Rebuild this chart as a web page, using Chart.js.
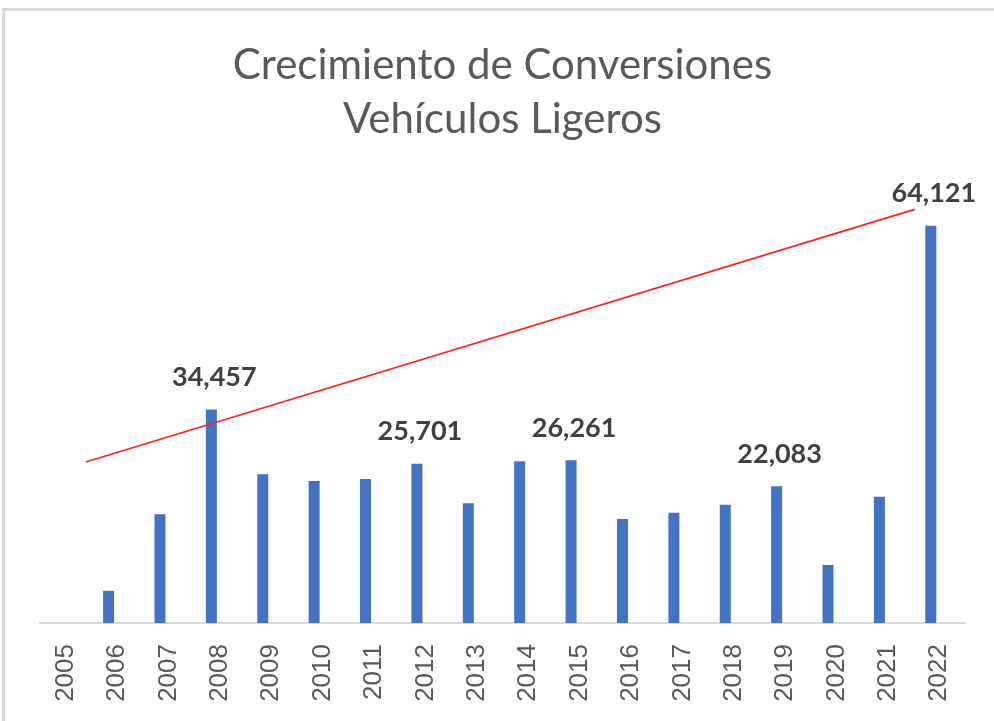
<!DOCTYPE html>
<html>
<head>
<meta charset="utf-8">
<script src="https://cdn.jsdelivr.net/npm/chart.js@4.4.0/dist/chart.umd.min.js"></script>
<style>
  body { margin: 0; background: #fff; }
  #marco { position: absolute; left: 2px; top: 8px; width: 1000px; height: 720px;
           border-top: 3px solid #d9d9d9; border-left: 3px solid #d9d9d9; }
  #myChart { position: absolute; left: 0; top: 0; }
</style>
</head>
<body>
<div id="marco"></div>
<canvas id="myChart" width="994" height="721"></canvas>
<script>
const anios = ['2005', '2006', '2007', '2008', '2009', '2010', '2011', '2012', '2013',
               '2014', '2015', '2016', '2017', '2018', '2019', '2020', '2021', '2022'];
const conversiones = [0, 5210, 17540, 34457, 24000, 22920, 23240, 25701, 19320,
                      26100, 26261, 16790, 17800, 19090, 22083, 9360, 20390, 64121];
const aniosConEtiqueta = ['2008', '2012', '2015', '2019', '2022'];
// linea roja dibujada a mano sobre el grafico (posicion en indice de categoria)
const lineaX = [0.39, 16.52];
const lineaY = [25990, 66770];

const ctx = document.getElementById('myChart');

const etiquetas = {
    id: 'etiquetas',
    afterDatasetsDraw(chart) {
        const meta = chart.getDatasetMeta(0);
        const c = chart.ctx;
        c.save();
        c.font = 'bold 27px Lato';
        c.fillStyle = '#404040';
        c.textAlign = 'center';
        c.textBaseline = 'middle';
        for (let i = 0; i < anios.length; i++) {
            if (aniosConEtiqueta.indexOf(anios[i]) < 0) continue;
            const bar = meta.data[i];
            c.fillText(conversiones[i].toLocaleString('en-US'), bar.x + 3, bar.y - 32);
        }
        c.restore();
    }
};

var myChart = new Chart(ctx, {
    type: 'bar',
    data: {
        labels: anios,
        datasets: [{
            label: 'Conversiones',
            data: conversiones,
            backgroundColor: '#4472C4',
            categoryPercentage: 0.662,
            barPercentage: 0.647,
            order: 2
        }, {
            type: 'line',
            label: 'Tendencia',
            data: [{ x: lineaX[0], y: lineaY[0] }, { x: lineaX[1], y: lineaY[1] }],
            xAxisID: 'xLinea',
            borderColor: '#FF2020',
            borderWidth: 1.6,
            pointRadius: 0,
            order: 1
        }]
    },
    options: {
        responsive: false,
        animation: false,
        layout: { padding: { left: 40, right: 29, top: 0, bottom: 0 } },
        plugins: {
            legend: { display: false },
            tooltip: { enabled: false },
            title: {
                display: true,
                text: ['Crecimiento de Conversiones', 'Vehículos Ligeros'],
                color: '#595959',
                font: { family: 'Lato', size: 42, weight: 'normal', lineHeight: 1.29 },
                padding: { top: 38, bottom: 43 }
            }
        },
        scales: {
            x: {
                grid: { display: false },
                border: { color: '#d9d9d9', width: 2 },
                ticks: {
                    color: '#595959',
                    font: { family: 'Liberation Sans', size: 26 },
                    minRotation: 90,
                    maxRotation: 90,
                    padding: 13,
                    autoSkip: false
                },
                afterFit: s => { s.height = 98; }
            },
            xLinea: {
                type: 'linear',
                display: false,
                offset: false,
                min: -0.5,
                max: 17.5
            },
            y: {
                display: false,
                min: 0,
                max: 70000
            }
        }
    },
    plugins: [etiquetas]
});
</script>
</body>
</html>
